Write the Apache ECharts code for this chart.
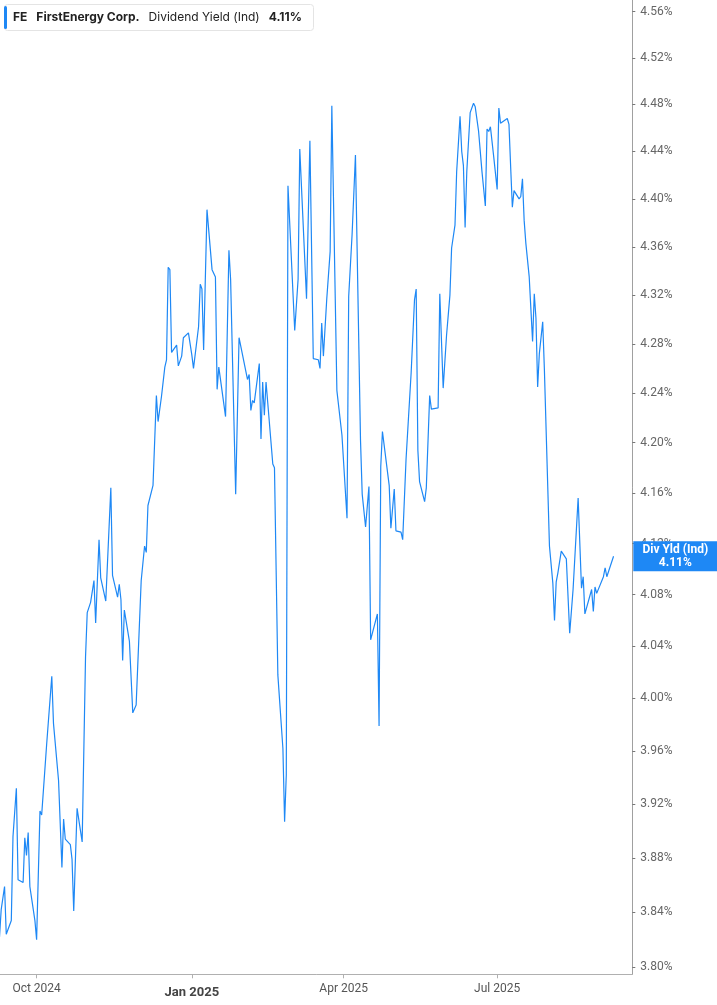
<!DOCTYPE html>
<html>
<head>
<meta charset="utf-8">
<script src="https://cdn.jsdelivr.net/npm/echarts@6/dist/echarts.min.js"></script>
<style>
html,body{margin:0;padding:0;background:#fff;}
#chart{width:717px;height:1005px;}
</style>
</head>
<body>
<div id="chart"></div>
<script>
// ---- data ----
const ticker = 'FE';
const company = 'FirstEnergy Corp.';
const metric = 'Dividend Yield (Ind)';
const metricShort = 'Div Yld (Ind)';
const lastValue = 4.11;

const dates = [
'2024-09-09','2024-09-10','2024-09-12','2024-09-13','2024-09-16','2024-09-17','2024-09-19','2024-09-20',
'2024-09-23','2024-09-24','2024-09-25','2024-09-26','2024-09-27','2024-09-30','2024-10-01','2024-10-03',
'2024-10-04','2024-10-07','2024-10-10','2024-10-11','2024-10-14','2024-10-16','2024-10-17','2024-10-18',
'2024-10-21','2024-10-22','2024-10-23','2024-10-25','2024-10-28','2024-10-30','2024-10-31','2024-11-02',
'2024-11-04','2024-11-05','2024-11-07','2024-11-08','2024-11-11','2024-11-14','2024-11-15','2024-11-18',
'2024-11-19','2024-11-20','2024-11-21','2024-11-22','2024-11-25','2024-11-27','2024-11-29','2024-12-02',
'2024-12-04','2024-12-05','2024-12-06','2024-12-09','2024-12-11','2024-12-12','2024-12-14','2024-12-16',
'2024-12-17','2024-12-18','2024-12-19','2024-12-20','2024-12-23','2024-12-24','2024-12-26','2024-12-27',
'2024-12-30','2025-01-01','2025-01-02','2025-01-03','2025-01-05','2025-01-06','2025-01-07','2025-01-08',
'2025-01-10','2025-01-13','2025-01-15','2025-01-16','2025-01-17','2025-01-21','2025-01-23','2025-01-24',
'2025-01-27','2025-01-29','2025-02-03','2025-02-04','2025-02-05','2025-02-06','2025-02-07','2025-02-10',
'2025-02-11','2025-02-12','2025-02-13','2025-02-14','2025-02-18','2025-02-19','2025-02-21','2025-02-24',
'2025-02-25','2025-02-26','2025-02-27','2025-03-03','2025-03-05','2025-03-06','2025-03-10','2025-03-12',
'2025-03-14','2025-03-17','2025-03-18','2025-03-19','2025-03-20','2025-03-22','2025-03-24','2025-03-25',
'2025-03-28','2025-03-31','2025-04-01','2025-04-03','2025-04-04','2025-04-06','2025-04-08','2025-04-11',
'2025-04-12','2025-04-14','2025-04-16','2025-04-17','2025-04-21','2025-04-22','2025-04-23','2025-04-24',
'2025-04-28','2025-04-29','2025-05-01','2025-05-02','2025-05-05','2025-05-06','2025-05-08','2025-05-09',
'2025-05-11','2025-05-13','2025-05-14','2025-05-15','2025-05-16','2025-05-19','2025-05-20','2025-05-22',
'2025-05-23','2025-05-27','2025-05-28','2025-05-30','2025-06-01','2025-06-03','2025-06-04','2025-06-06',
'2025-06-07','2025-06-09','2025-06-10','2025-06-11','2025-06-12','2025-06-13','2025-06-15','2025-06-17',
'2025-06-18','2025-06-20','2025-06-22','2025-06-24','2025-06-25','2025-06-26','2025-06-27','2025-06-29',
'2025-07-01','2025-07-02','2025-07-03','2025-07-07','2025-07-08','2025-07-09','2025-07-10','2025-07-11',
'2025-07-14','2025-07-15','2025-07-16','2025-07-17','2025-07-18','2025-07-20','2025-07-22','2025-07-23',
'2025-07-24','2025-07-25','2025-07-26','2025-07-28','2025-07-29','2025-07-30','2025-08-01','2025-08-03',
'2025-08-04','2025-08-05','2025-08-06','2025-08-07','2025-08-08','2025-08-11','2025-08-13','2025-08-15',
'2025-08-18','2025-08-20','2025-08-21','2025-08-22','2025-08-26','2025-08-27','2025-08-28','2025-08-29',
'2025-09-02','2025-09-03','2025-09-04','2025-09-05','2025-09-08'
];

const yields = [
3.822,3.842,3.859,3.824,3.834,3.896,3.932,3.864,
3.862,3.895,3.882,3.899,3.859,3.834,3.820,3.915,
3.912,3.966,4.017,3.981,3.938,3.873,3.909,3.894,
3.890,3.879,3.841,3.917,3.892,4.032,4.066,4.074,
4.091,4.058,4.123,4.093,4.075,4.164,4.095,4.078,
4.088,4.076,4.029,4.068,4.044,3.989,3.995,4.091,
4.118,4.113,4.150,4.166,4.238,4.217,4.237,4.261,
4.267,4.343,4.341,4.273,4.279,4.262,4.270,4.285,
4.289,4.271,4.260,4.259,4.294,4.329,4.325,4.275,
4.391,4.341,4.335,4.243,4.261,4.221,4.357,4.333,
4.159,4.285,4.251,4.255,4.226,4.234,4.232,4.264,
4.203,4.249,4.222,4.249,4.183,4.180,4.018,3.962,
3.907,3.942,4.411,4.291,4.333,4.442,4.317,4.449,
4.268,4.267,4.260,4.297,4.270,4.317,4.356,4.479,
4.242,4.206,4.205,4.140,4.319,4.370,4.437,4.202,
4.159,4.133,4.165,4.045,4.065,3.979,4.181,4.209,
4.166,4.132,4.163,4.130,4.129,4.123,4.187,4.187,
4.256,4.316,4.325,4.194,4.169,4.153,4.164,4.238,
4.227,4.228,4.321,4.244,4.287,4.320,4.359,4.378,
4.423,4.470,4.440,4.428,4.376,4.423,4.473,4.481,
4.478,4.457,4.423,4.394,4.459,4.457,4.461,4.435,
4.408,4.477,4.464,4.468,4.463,4.427,4.393,4.407,
4.400,4.402,4.417,4.382,4.363,4.335,4.282,4.321,
4.301,4.245,4.272,4.298,4.259,4.259,4.118,4.089,
4.060,4.090,4.097,4.098,4.114,4.108,4.050,4.084,
4.156,4.085,4.094,4.065,4.084,4.067,4.086,4.081,
4.094,4.101,4.094,4.094,4.110
];

const xTickDates = ['2024-10-01','2025-01-01','2025-04-01','2025-07-01'];
const xTickLabels = ['Oct 2024','Jan 2025','Apr 2025','Jul 2025'];
const yTicks = [3.80,3.84,3.88,3.92,3.96,4.00,4.04,4.08,4.12,4.16,4.20,4.24,4.28,4.32,4.36,4.40,4.44,4.48,4.52,4.56];

// ---- build ----
function utc(s){const p=s.split('-');return Date.UTC(+p[0],+p[1]-1,+p[2]);}
const seriesData = dates.map((d,i)=>[utc(d), yields[i]]);
const xTickTimes = xTickDates.map(utc);
const blue = '#1e88f5';

const chart = echarts.init(document.getElementById('chart'), null, {renderer:'canvas'});
chart.setOption({
  animation: false,
  backgroundColor: '#fff',
  title: {
    left: 4, top: 4,
    padding: [2, 12, 2, 0],
    backgroundColor: '#fff',
    borderColor: '#e4e4e4', borderWidth: 1, borderRadius: 3,
    text: '{bar|}{f|' + ticker + '}{b|' + company + '}{n|' + metric + '}{b|' + lastValue.toFixed(2) + '%}',
    textStyle: {
      rich: {
        bar: {width: 3, height: 23, backgroundColor: blue, borderRadius: 1.5},
        f: {fontFamily: 'Inter', fontWeight: 'bold', fontSize: 12, color: '#222', padding: [0,0,0,6], lineHeight: 23},
        b: {fontFamily: 'Inter', fontWeight: 'bold', fontSize: 12, color: '#222', padding: [0,0,0,9], lineHeight: 23},
        n: {fontFamily: 'Inter', fontWeight: 'normal', fontSize: 12, color: '#222', padding: [0,0,0,9], lineHeight: 23}
      }
    }
  },
  grid: {left: 0, right: 84.7, top: 0, bottom: 30.7},
  xAxis: {
    type: 'value',
    min: Date.UTC(2024, 8, 9, 7, 12),
    max: Date.UTC(2025, 8, 19, 2, 38),
    axisLine: {show: true, lineStyle: {color: '#b0b0b0', width: 1}},
    axisTick: {show: true, customValues: xTickTimes, length: 4, lineStyle: {color: '#b0b0b0'}},
    axisLabel: {
      customValues: xTickTimes,
      margin: 9,
      color: '#555', fontFamily: 'Roboto', fontSize: 12,
      formatter: function (v) {
        const i = xTickTimes.indexOf(+v);
        const t = i >= 0 ? xTickLabels[i] : '';
        return t.indexOf('Jan') === 0 ? '{b|' + t + '}' : t;
      },
      rich: {b: {fontFamily: 'Roboto', fontWeight: 'bold', fontSize: 13, color: '#444', padding: [3,0,0,0]}}
    },
    splitLine: {show: false}
  },
  yAxis: {
    type: 'log', logBase: 10,
    position: 'right',
    min: 3.7949, max: 4.5702,
    axisLine: {show: true, lineStyle: {color: '#a0a0a0', width: 1}},
    axisTick: {show: true, customValues: yTicks, length: 3, lineStyle: {color: '#777'}},
    axisLabel: {
      customValues: yTicks,
      margin: 8,
      color: '#666', fontFamily: 'Roboto', fontSize: 12,
      formatter: function (v) { return (+v).toFixed(2) + '%'; }
    },
    splitLine: {show: false}
  },
  series: [{
    type: 'line',
    data: seriesData,
    symbol: 'none', showSymbol: false,
    lineStyle: {color: blue, width: 1.2},
    itemStyle: {color: blue},
    z: 3,
    markLine: {
      silent: true, symbol: 'none', animation: false,
      lineStyle: {color: 'rgba(0,0,0,0)', width: 0, opacity: 1},
      label: {
        show: true, position: 'end', distance: 1, opacity: 1,
        formatter: '{a|' + metricShort + '}\n{a|' + lastValue.toFixed(2) + '%}',
        backgroundColor: blue,
        padding: [2, 0, 2, 0],
        rich: {a: {width: 84, align: 'center', color: '#fff', fontWeight: 'bold', fontSize: 12, lineHeight: 13, fontFamily: 'Roboto'}}
      },
      data: [{yAxis: lastValue}]
    }
  }]
});
</script>
</body>
</html>
